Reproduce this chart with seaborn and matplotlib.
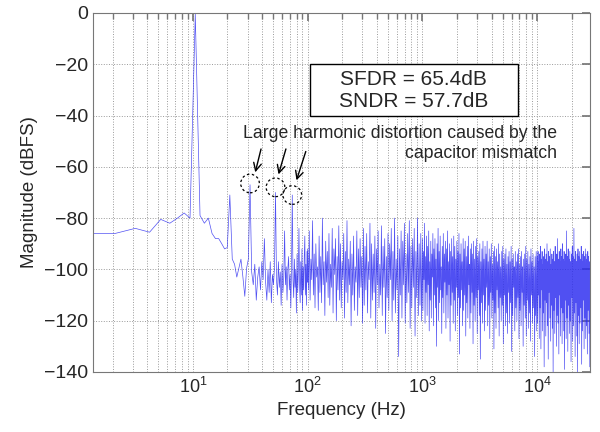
import numpy as np
import pandas as pd
import seaborn as sns
import matplotlib.pyplot as plt
from matplotlib.patches import Rectangle

# FFT bin spacing of the measured spectrum (Hz)
BIN_HZ = 1.05

# low-frequency bins 1..95, magnitude in dBFS (tone at bin 10, harmonics at 20, 30, ...)
low_bins = list(range(1, 96))
low_mag = [
    -86, -86, -84, -85.5, -80.5, -82, -80, -78, -80, -0.5,
    -79, -82, -80, -86, -88, -88, -90, -92, -91.5, -71,
    -96, -98, -103, -99.5, -96, -103, -110.5, -99.5, -96, -67,
    -101, -106, -98, -112, -103, -99, -108, -97, -104, -88,
    -105, -112, -100, -109, -97, -113, -102, -106, -99, -70,
    -104, -110, -97, -107, -101, -114, -98, -109, -103, -85,
    -106, -99, -112, -100, -95, -108, -102, -115, -98, -71,
    -104, -111, -96, -107, -100, -117, -94, -109, -101, -84,
    -106, -113, -97, -110, -92, -116, -99, -108, -95, -87,
    -110, -98, -114, -93, -105,
]

# noise floor, 100 Hz - 1 kHz
noise_100_1k = [
    -92, -108, -85, -112, -96, -104, -81, -110, -94, -115, -90, -103, -99, -116, -87, -109, -95, -113, -80, -106,
    -97, -118, -89, -105, -93, -111, -86, -114, -98, -107, -84, -117, -92, -102, -88, -120, -95, -108, -83, -112,
    -90, -115, -97, -104, -86, -119, -93, -109, -81, -113, -96, -106, -89, -122, -94, -110, -87, -116, -99, -105,
    -85, -118, -92, -111, -88, -107, -95, -121, -84, -114, -91, -108, -86, -117, -97, -104, -82, -119, -90, -112,
    -94, -109, -87, -123, -92, -106, -85, -115, -98, -110, -83, -118, -91, -107, -88, -125, -95, -111, -86, -116,
    -90, -104, -84, -120, -93, -112, -80, -117, -96, -108, -87, -134, -92, -110, -85, -119, -89, -106, -82, -121,
    -94, -113, -86, -109, -81, -123, -91, -115, -88, -107, -84, -126, -93, -111, -80, -118, -90, -114, -86, -120,
]

# 1 kHz - 10 kHz
noise_1k_10k = [
    -88, -116, -93, -104, -82, -121, -95, -109, -87, -118, -91, -106, -85, -124, -97, -112, -89, -119, -94, -103,
    -86, -122, -92, -110, -88, -115, -96, -130, -90, -107, -84, -120, -93, -113, -87, -108, -99, -125, -91, -111,
    -86, -117, -94, -105, -89, -123, -92, -110, -85, -119, -97, -106, -90, -128, -93, -114, -88, -109, -95, -121,
    -87, -112, -91, -124, -96, -107, -89, -118, -93, -111, -86, -133, -94, -115, -90, -108, -97, -122, -88, -116,
    -92, -110, -89, -126, -95, -113, -91, -119, -87, -106, -98, -123, -92, -117, -90, -109, -94, -129, -89, -114,
    -96, -120, -91, -111, -88, -125, -95, -108, -93, -118, -90, -135, -97, -113, -92, -121, -89, -110, -96, -124,
    -91, -116, -94, -107, -89, -122, -97, -114, -92, -127, -95, -109, -90, -119, -98, -112, -93, -131, -91, -117,
    -95, -123, -92, -108, -97, -115, -90, -126, -94, -111, -99, -120, -93, -114, -91, -129, -96, -110, -94, -122,
    -92, -117, -98, -125, -95, -109, -93, -121, -97, -113, -91, -132, -96, -118, -94, -107, -99, -124, -93, -115,
    -97, -120, -94, -111, -92, -127, -98, -116, -95, -122, -93, -109, -99, -130, -96, -114, -94, -119, -91, -126,
    -96, -112, -93, -123, -98, -117, -95, -128, -92, -110, -97, -121, -94, -115, -99, -134, -95, -118, -93, -124,
]

# 10 kHz - Nyquist
noise_10k_up = [
    -95, -121, -93, -110, -97, -127, -94, -115, -91, -131, -96, -108, -93, -124, -98, -117, -95, -138, -92, -112,
    -96, -126, -94, -113, -90, -122, -97, -135, -93, -109, -95, -119, -92, -128, -98, -114, -94, -123, -96, -140,
    -93, -116, -97, -125, -91, -111, -95, -130, -94, -118, -88, -121, -96, -133, -93, -110, -97, -126, -92, -115,
    -95, -129, -90, -117, -96, -124, -93, -139, -97, -112, -94, -127, -85, -119, -95, -132, -92, -114, -96, -125,
    -93, -120, -97, -136, -94, -111, -91, -128, -95, -122, -84, -117, -96, -134, -93, -113, -97, -126, -94, -140,
    -92, -118, -95, -129, -93, -121, -96, -115, -91, -137, -94, -124, -97, -112, -93, -131, -95, -119, -92, -127,
    -94, -122, -96, -133, -93, -116, -95, -125, -97, -138,
]
F_NYQ = 28700

# annotation marks: circled harmonics and arrows (Hz, dBFS)
circle_freq = [31.5, 52.5, 73.5]
circle_mag = [-66.5, -68.0, -71.0]
arrow_tail = [(39.8, -52.0), (65.7, -52.0), (98.0, -53.0)]
arrow_head = [(34.5, -63.2), (54.9, -64.0), (78.6, -66.3)]

sns.set_theme(style="white")
plt.rcParams["font.family"] = ["Liberation Sans", "DejaVu Sans"]

freq = np.concatenate([
    np.array(low_bins) * BIN_HZ,
    np.geomspace(100, 1000, len(noise_100_1k), endpoint=False),
    np.geomspace(1000, 10000, len(noise_1k_10k), endpoint=False),
    np.geomspace(10000, F_NYQ, len(noise_10k_up)),
])
mag = np.concatenate([low_mag, noise_100_1k, noise_1k_10k, noise_10k_up])
df = pd.DataFrame({"freq": freq, "mag": mag})

fig = plt.figure(figsize=(6, 4.32), dpi=100)
ax = fig.add_axes([0.155, 0.139, 0.828, 0.831])

sns.lineplot(data=df, x="freq", y="mag", estimator=None, sort=False,
             color="#2a2af0", lw=0.5, alpha=0.82, ax=ax)

ax.set_xscale("log")
ax.set_xlim(1.35, F_NYQ)
ax.set_ylim(-140, 0)
ax.set_yticks(np.arange(-140, 1, 20))
ax.grid(True, which="major", axis="both", ls=":", color="#9a9a9a", lw=0.7)
ax.grid(True, which="minor", axis="x", ls=":", color="#9a9a9a", lw=0.7)
ax.tick_params(which="both", direction="in", top=True, right=True, color="#777777")
ax.tick_params(axis="y", labelsize=14)
ax.tick_params(axis="x", labelsize=13)
for sp in ax.spines.values():
    sp.set_color("#777777")
    sp.set_linewidth(0.8)

ax.set_xlabel("Frequency (Hz)", fontsize=13.5)
ax.set_ylabel("Magnitude (dBFS)", fontsize=13.5)

# SFDR / SNDR box
ax.add_patch(Rectangle((0.4366, -40), 0.4184, 20, transform=ax.get_yaxis_transform(),
                       facecolor="white", edgecolor="black", lw=1.0, zorder=5))
ax.text(0.6458, -30.2, "SFDR = 65.4dB\nSNDR = 57.7dB", transform=ax.get_yaxis_transform(),
        ha="center", va="center", fontsize=15, linespacing=1.15, zorder=6)

ax.text(14800, -51, "Large harmonic distortion caused by the\ncapacitor mismatch",
        ha="right", va="center", multialignment="right", fontsize=12.7, linespacing=1.25)

ax.scatter(circle_freq, circle_mag, s=180, facecolors="none", edgecolors="black",
           linewidths=0.9, linestyle=(0, (2, 2)), zorder=4)
for tail, head in zip(arrow_tail, arrow_head):
    ax.annotate("", xy=head, xytext=tail,
                arrowprops=dict(arrowstyle="->", color="black", lw=1.0, mutation_scale=14))

fig.savefig("out.png", dpi=100)
